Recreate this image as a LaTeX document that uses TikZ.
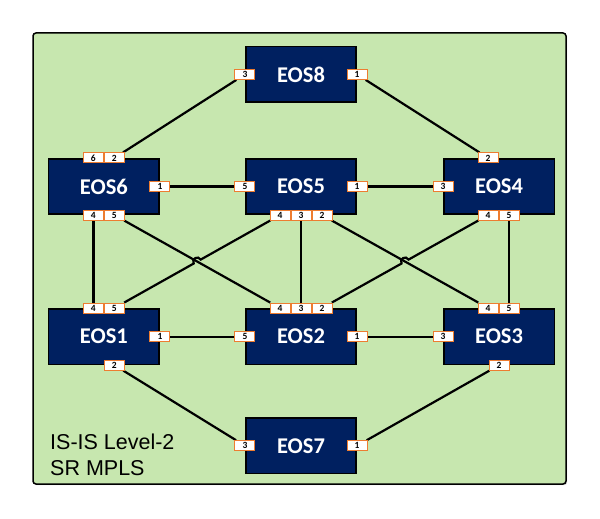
\documentclass[tikz,border=0pt]{standalone}
\usepackage{fontspec}
\setmainfont{Carlito}
\newfontfamily\areafont{Liberation Sans}
\usetikzlibrary{positioning, calc, shadows}
\pgfdeclarelayer{background}
\pgfdeclarelayer{foreground}
\pgfsetlayers{background,main,foreground}
\definecolor{areagreen}{RGB}{199,231,175}
\definecolor{eosblue}{RGB}{0,32,96}
\definecolor{portorange}{RGB}{237,125,49}
\tikzset{
    router/.style={rectangle, draw=black, line width=1.6pt, fill=eosblue, text=white,
      minimum width=110.5pt, minimum height=55.5pt, font=\fontsize{22.5}{22.5}\selectfont\bfseries},
    port/.style={rectangle, draw=portorange, line width=1pt, fill=white,
      minimum width=20pt, minimum height=10pt, inner sep=0pt, font=\fontsize{9.5}{9.5}\selectfont\bfseries},
    link/.style={draw=black, line width=2.2pt},
}

\begin{document}
\begin{tikzpicture}[x=1pt, y=1pt]
    \useasboundingbox (0,0) rectangle (600,-519);
    \draw[fill=areagreen, line width=1.5pt, rounded corners=3pt,
      drop shadow={shadow xshift=1.2pt, shadow yshift=-1.2pt, opacity=0.35}]
      (33,-33) rectangle (566,-484);

    \begin{pgfonlayer}{foreground}
    \node[router] (eos5) at (301,-186.5) {EOS5};
    \node[router, left=85pt of eos5] (eos6) {EOS6};
    \node[router, right=86pt of eos5] (eos4) {EOS4};
    \node[router, above=55pt of eos5] (eos8) {EOS8};
    \node[router, below=93pt of eos5] (eos2) {EOS2};
    \node[router, below=93pt of eos6] (eos1) {EOS1};
    \node[router, below=93pt of eos4] (eos3) {EOS3};
    \node[router, below=52pt of eos2] (eos7) {EOS7};

    % ports
    \node[port] (eos8p3) at (eos8.west) {3};
    \node[port] (eos8p1) at (eos8.east) {1};
    \node[port] (eos6p6) at ([xshift=-10.5pt]eos6.north) {6};
    \node[port] (eos6p2) at ([xshift=10.5pt]eos6.north) {2};
    \node[port] (eos6p1) at (eos6.east) {1};
    \node[port] (eos6p4) at ([xshift=-10.5pt]eos6.south) {4};
    \node[port] (eos6p5) at ([xshift=10.5pt]eos6.south) {5};
    \node[port] (eos5p5) at (eos5.west) {5};
    \node[port] (eos5p1) at (eos5.east) {1};
    \node[port] (eos5p4) at ([xshift=-21pt]eos5.south) {4};
    \node[port] (eos5p3) at (eos5.south) {3};
    \node[port] (eos5p2) at ([xshift=21pt]eos5.south) {2};
    \node[port] (eos4p2) at ([xshift=-11pt]eos4.north) {2};
    \node[port] (eos4p3) at (eos4.west) {3};
    \node[port] (eos4p4) at ([xshift=-11pt]eos4.south) {4};
    \node[port] (eos4p5) at ([xshift=10pt]eos4.south) {5};
    \node[port] (eos1p4) at ([xshift=-10.5pt]eos1.north) {4};
    \node[port] (eos1p5) at ([xshift=10.5pt]eos1.north) {5};
    \node[port] (eos1p1) at (eos1.east) {1};
    \node[port] (eos1p2) at ([xshift=10.5pt]eos1.south) {2};
    \node[port] (eos2p4) at ([xshift=-21pt]eos2.north) {4};
    \node[port] (eos2p3) at (eos2.north) {3};
    \node[port] (eos2p2) at ([xshift=21pt]eos2.north) {2};
    \node[port] (eos2p5) at (eos2.west) {5};
    \node[port] (eos2p1) at (eos2.east) {1};
    \node[port] (eos3p4) at ([xshift=-11pt]eos3.north) {4};
    \node[port] (eos3p5) at ([xshift=10pt]eos3.north) {5};
    \node[port] (eos3p3) at (eos3.west) {3};
    \node[port] (eos3p2) at (eos3.south) {2};
    \node[port] (eos7p3) at (eos7.west) {3};
    \node[port] (eos7p1) at (eos7.east) {1};
    \end{pgfonlayer}

    % links
    \draw[link] (eos8p3) -- (eos6p2);
    \draw[link] (eos8p1) -- (eos4p2);
    \draw[link] (eos6p1) -- (eos5p5);
    \draw[link] (eos5p1) -- (eos4p3);
    \draw[link] (eos6p4) -- (eos1p4);
    \draw[link] (eos6p5) -- (eos2p4);
    \draw[link] (eos5p3) -- (eos2p3);
    \draw[link] (eos5p2) -- (eos3p4);
    \draw[link] (eos4p5) -- (eos3p5);
    \draw[link] (eos1p1) -- (eos2p5);
    \draw[link] (eos2p1) -- (eos3p3);
    \draw[link] (eos1p2) -- (eos7p3);
    \draw[link] (eos3p2) -- (eos7p1);

    % links with a hop over the crossing
    \coordinate (hopA) at (intersection of eos6p5--eos2p4 and eos1p5--eos5p4);
    \coordinate (hopB) at (intersection of eos5p2--eos3p4 and eos2p2--eos4p4);
    \draw[link] (eos1p5) -- ($(hopA)!4pt!(eos1p5)$)
      to[out=120, in=120, looseness=1.7] ($(hopA)!4pt!(eos5p4)$) -- (eos5p4);
    \draw[link] (eos2p2) -- ($(hopB)!4pt!(eos2p2)$)
      to[out=120, in=120, looseness=1.7] ($(hopB)!4pt!(eos4p4)$) -- (eos4p4);

    \node[anchor=north west, inner sep=0pt, align=left,
      font=\areafont\fontsize{21.5}{26}\selectfont] (area) at (50,-434) {IS-IS Level-2\\SR MPLS};
\end{tikzpicture}
\end{document}
